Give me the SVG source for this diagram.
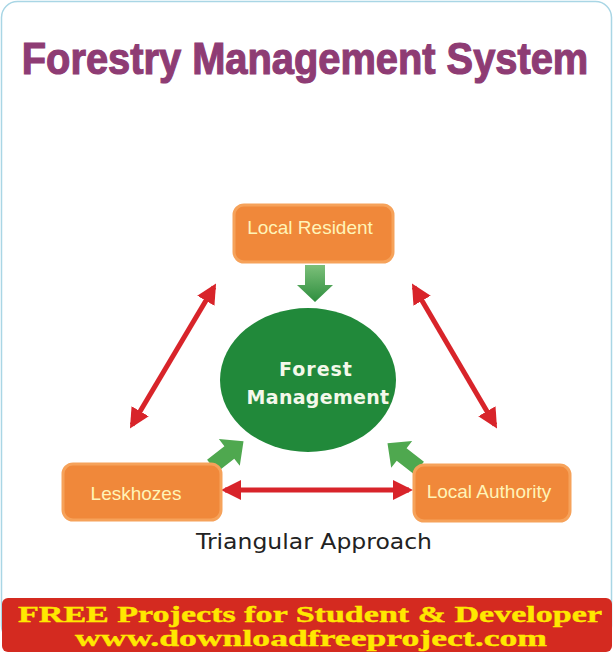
<svg xmlns="http://www.w3.org/2000/svg" width="614" height="655" viewBox="0 0 614 655">
<defs>
<style>
.box{fill:#F0883A;stroke:#F6A25A;stroke-width:3}
.btxt{font-family:"Liberation Sans",Arial,sans-serif;font-size:19px;fill:#FFF4B8;text-anchor:middle}
.red{stroke:#D8242A;stroke-width:5;fill:none}
.grn{fill:#4FA84F}
.ban{font-family:"Liberation Serif","Times New Roman",serif;font-weight:bold;fill:#FFE800;text-anchor:middle;stroke:#FFE800;stroke-width:0.4}
</style>
<marker id="rh" viewBox="0 0 10 10" refX="8" refY="5" markerWidth="4" markerHeight="4" orient="auto-start-reverse" markerUnits="strokeWidth">
<path d="M0,0 L10,5 L0,10 z" fill="#D8242A"/>
</marker>
<linearGradient id="gd" x1="0" y1="0" x2="0" y2="1">
<stop offset="0" stop-color="#7CC07A"/><stop offset="1" stop-color="#2E8E3E"/>
</linearGradient>
</defs>
<rect x="0" y="0" width="614" height="655" fill="#fff"/>
<rect x="1.5" y="1.5" width="610" height="640" rx="16" fill="#fff" stroke="#A9D6E5" stroke-width="1.5"/>
<text transform="translate(305,74) scale(0.885,1)" x="0" y="0" text-anchor="middle" font-family="Liberation Sans,Arial,sans-serif" font-weight="bold" font-size="45" fill="#8E3C74" stroke="#8E3C74" stroke-width="1.2">Forestry Management System</text>

<g id="connectors">
<line class="red" x1="214" y1="287" x2="132" y2="425" marker-start="url(#rh)" marker-end="url(#rh)"/>
<line class="red" x1="414" y1="287" x2="495" y2="425" marker-start="url(#rh)" marker-end="url(#rh)"/>
<line class="red" x1="225" y1="490" x2="409" y2="490" marker-start="url(#rh)" marker-end="url(#rh)"/>
<path fill="url(#gd)" d="M305,265 H325 V285 H333 L315,302 L297,285 H305 Z"/>
<path class="grn" d="M0,-8 H22 V-17 L40,0 L22,17 V8 H0 Z" transform="translate(212,466) rotate(-38)"/>
<path class="grn" d="M0,-8 H22 V-17 L40,0 L22,17 V8 H0 Z" transform="translate(419,468) rotate(-142)"/>
</g>

<g id="forest">
<ellipse cx="308" cy="380" rx="88" ry="72" fill="#21893A"/>
<text x="316" y="376" text-anchor="middle" font-family="DejaVu Sans,sans-serif" font-weight="bold" font-size="19" fill="#F4F8EA" letter-spacing="1">Forest</text>
<text x="318" y="404" text-anchor="middle" font-family="DejaVu Sans,sans-serif" font-weight="bold" font-size="19" fill="#F4F8EA" letter-spacing="0.3">Management</text>
</g>
<g id="resident">
<rect class="box" x="234" y="205" width="159" height="57" rx="10"/>
<text class="btxt" x="310" y="234">Local Resident</text>
</g>
<g id="leskhozes">
<rect class="box" x="63" y="464" width="158" height="56" rx="10"/>
<text class="btxt" x="136" y="500">Leskhozes</text>
</g>
<g id="authority">
<rect class="box" x="414" y="465" width="156" height="56" rx="10"/>
<text class="btxt" x="489" y="498">Local Authority</text>
</g>
<text x="314" y="549" text-anchor="middle" font-family="DejaVu Sans,sans-serif" font-size="22" fill="#222" textLength="236" lengthAdjust="spacingAndGlyphs">Triangular Approach</text>

<g id="banner">
<rect x="2" y="598" width="610" height="54" rx="6" fill="#D42A20"/>
<text class="ban" x="310" y="622" font-size="24" textLength="584" lengthAdjust="spacingAndGlyphs">FREE Projects for Student  &amp; Developer</text>
<text class="ban" x="311" y="646" font-size="24" textLength="472" lengthAdjust="spacingAndGlyphs">www.downloadfreeproject.com</text>
</g>
</svg>
